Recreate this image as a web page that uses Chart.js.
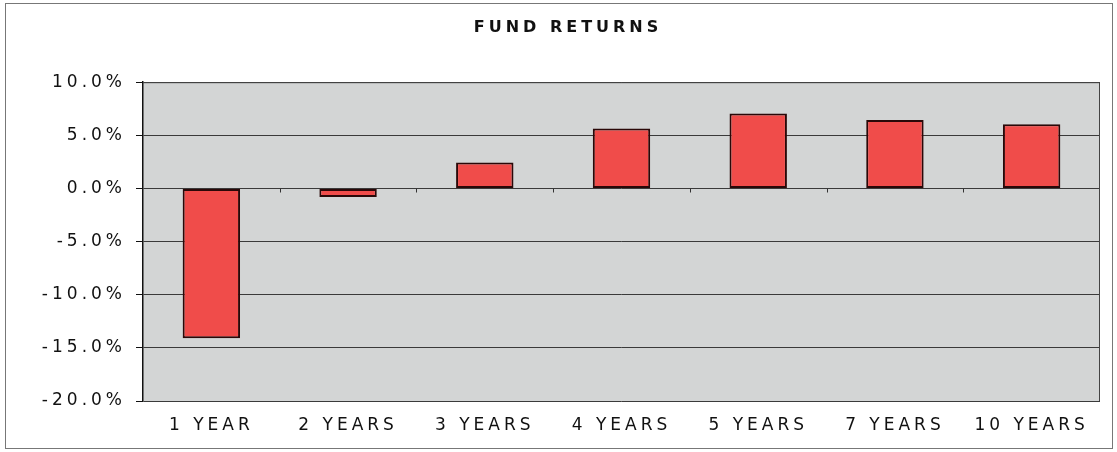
<!DOCTYPE html>
<html>
<head>
<meta charset="utf-8">
<script src="https://cdn.jsdelivr.net/npm/chart.js@4"></script>
<style>
  html, body { margin: 0; padding: 0; background: #fff; }
  #wrap { width: 1117px; height: 452px; }
</style>
</head>
<body>
<div id="wrap"><canvas id="chart" width="1117" height="452"></canvas></div>
<script>
const periods = ["1 YEAR", "2 YEARS", "3 YEARS", "4 YEARS", "5 YEARS", "7 YEARS", "10 YEARS"];
const fundReturns = [-14.1, -0.8, 2.45, 5.65, 7.05, 6.45, 6.05];
const yTicks = [-20, -15, -10, -5, 0, 5, 10];

const FONT = "DejaVu Sans, Liberation Sans, sans-serif";

// white page, outer frame, grey plot area, small ticks on zero line
const frame = {
  id: "frame",
  beforeDraw(chart) {
    const { ctx, chartArea: a } = chart;
    ctx.save();
    ctx.fillStyle = "#fff";
    ctx.fillRect(0, 0, chart.width, chart.height);
    ctx.strokeStyle = "#777";
    ctx.lineWidth = 1;
    ctx.strokeRect(5.5, 3.5, 1107, 445);
    ctx.fillStyle = "#d3d5d5";
    ctx.fillRect(a.left, a.top, a.right - a.left, a.bottom - a.top);
    ctx.restore();
    ctx.letterSpacing = "4px";
  },
  afterDatasetsDraw(chart) {
    const { ctx, chartArea: a, scales } = chart;
    const x = scales.x, y = scales.y;
    const zero = Math.round(y.getPixelForValue(0)) + 0.5;
    ctx.save();
    ctx.strokeStyle = "#333";
    ctx.lineWidth = 1;
    for (let i = 1; i < periods.length; i++) {
      const px = Math.round((x.getPixelForValue(i - 1) + x.getPixelForValue(i)) / 2) + 0.5;
      ctx.beginPath();
      ctx.moveTo(px, zero);
      ctx.lineTo(px, zero + 4);
      ctx.stroke();
    }
    ctx.strokeStyle = "#444";
    ctx.beginPath();
    ctx.moveTo(a.left, a.top + 0.5);
    ctx.lineTo(a.right - 0.5, a.top + 0.5);
    ctx.lineTo(a.right - 0.5, a.bottom);
    ctx.stroke();
    ctx.restore();
  }
};

new Chart(document.getElementById("chart"), {
  type: "bar",
  data: {
    labels: periods,
    datasets: [{
      label: "Fund returns",
      data: fundReturns,
      backgroundColor: "#f04c4a",
      borderColor: "#2a0808",
      borderWidth: 2,
      borderSkipped: false,
      categoryPercentage: 1,
      barPercentage: 0.42
    }]
  },
  options: {
    responsive: false,
    animation: false,
    layout: { padding: { top: 12, right: 17, bottom: 0, left: 36 } },
    plugins: {
      legend: { display: false },
      tooltip: { enabled: false },
      title: {
        display: true,
        text: "FUND RETURNS",
        color: "#111",
        font: { family: FONT, size: 16, weight: "bold" },
        padding: { top: 6, bottom: 45 }
      }
    },
    scales: {
      x: {
        afterFit(scale) { scale.height = 51; },
        grid: { display: false },
        border: { display: false },
        ticks: {
          color: "#111",
          padding: 6,
          maxRotation: 0,
          font: { family: FONT, size: 17 }
        }
      },
      y: {
        min: -20,
        max: 10,
        afterFit(scale) { scale.width = 107; },
        afterBuildTicks(scale) { scale.ticks = yTicks.map(v => ({ value: v })); },
        grid: { color: "#3a3a3a", lineWidth: 1, tickLength: 7, tickColor: "#111" },
        border: { display: true, color: "#111", width: 1.5 },
        ticks: {
          color: "#111",
          padding: 10,
          font: { family: FONT, size: 17 },
          callback: v => v.toFixed(1) + "%"
        }
      }
    }
  },
  plugins: [frame]
});
</script>
</body>
</html>
